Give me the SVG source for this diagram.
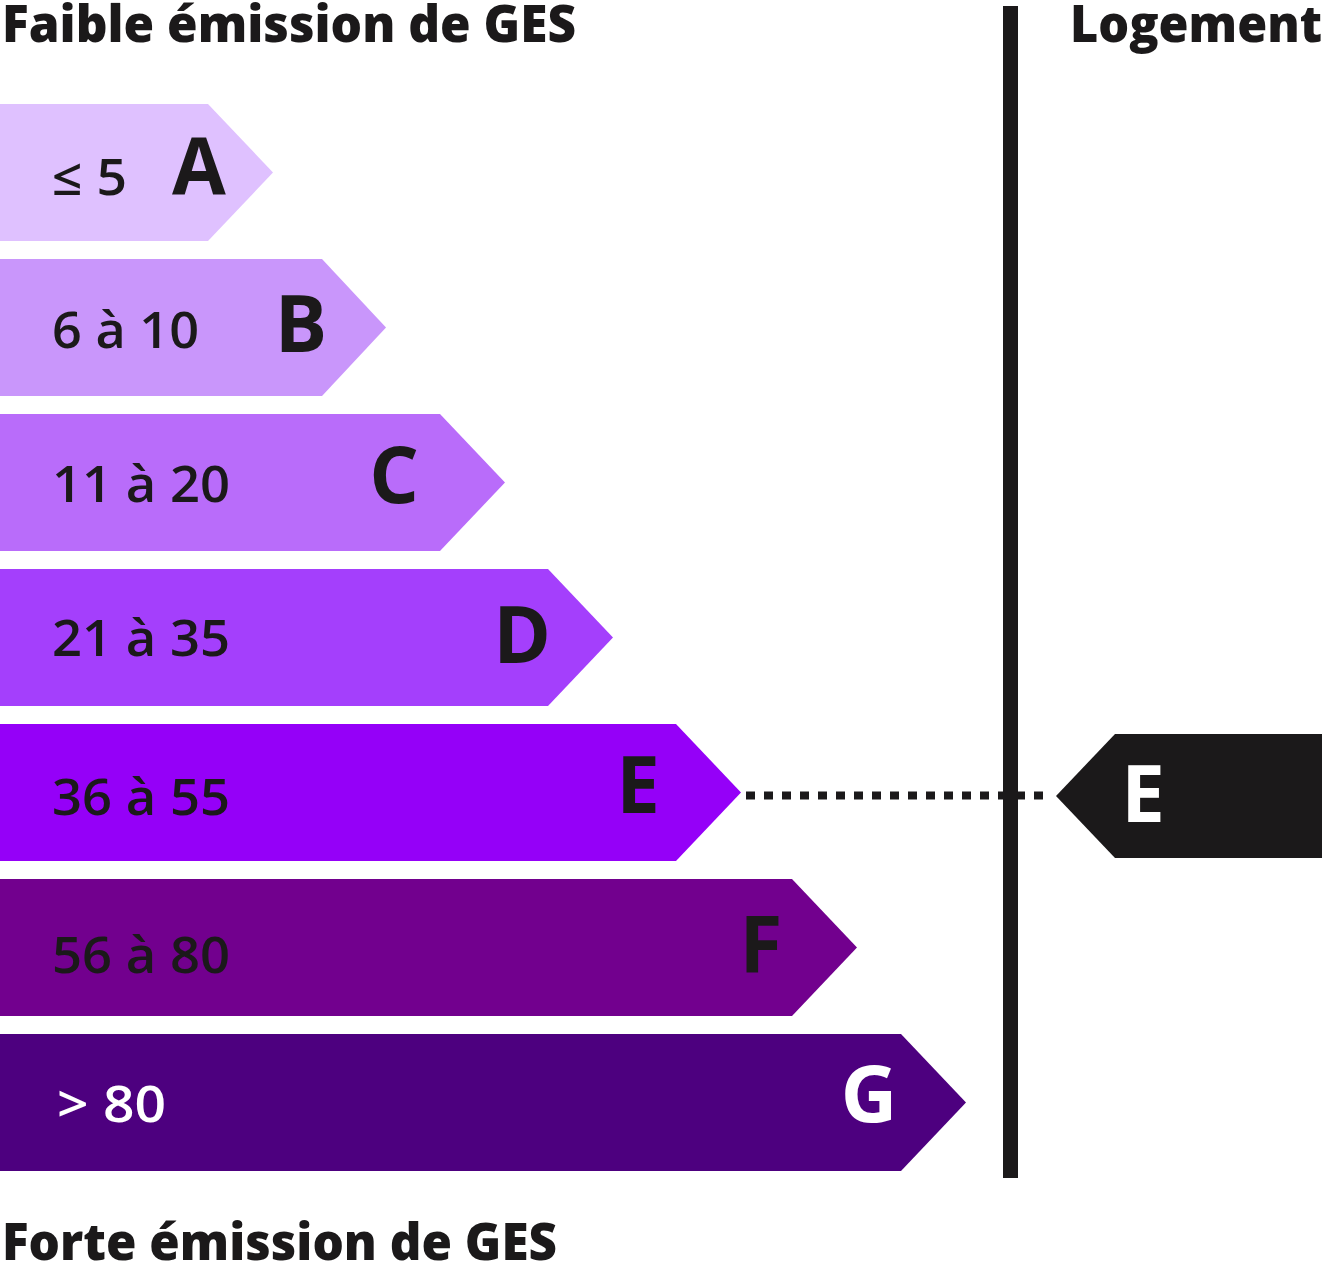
<svg xmlns="http://www.w3.org/2000/svg" width="1326" height="1266" viewBox="0 0 1326 1266">
<style>
.t{font-family:"Open Sans","Noto Sans",sans-serif;font-weight:800;fill:#1b191a}
.r{font-family:"Open Sans","Noto Sans",sans-serif;font-weight:600;font-size:50px;fill:#1b191a}
.l{font-family:"Open Sans","Noto Sans",sans-serif;font-weight:700;font-size:78px;fill:#1b191a;text-anchor:middle}
.w{fill:#ffffff}
</style>
<rect width="1326" height="1266" fill="#ffffff"/>
<text class="t" x="2" y="42" font-size="51" textLength="574" lengthAdjust="spacingAndGlyphs">Faible émission de GES</text>
<text class="t" x="1070" y="42" font-size="51" textLength="252" lengthAdjust="spacingAndGlyphs">Logement</text>
<text class="t" x="2" y="1260" font-size="51" textLength="555" lengthAdjust="spacingAndGlyphs">Forte émission de GES</text>
<g id="bar-A"><polygon points="0,104 208,104 273,172.5 208,241 0,241" fill="#dfc1ff"/><text class="r" x="52" y="195" textLength="75" lengthAdjust="spacingAndGlyphs">≤ 5</text><text class="l" x="199" y="194">A</text></g>
<g id="bar-B"><polygon points="0,259 322,259 386,327.5 322,396 0,396" fill="#c996fb"/><text class="r" x="52" y="348" textLength="147" lengthAdjust="spacingAndGlyphs">6 à 10</text><text class="l" x="301" y="352">B</text></g>
<g id="bar-C"><polygon points="0,414 440,414 505,482.5 440,551 0,551" fill="#b96cfa"/><text class="r" x="52" y="502" textLength="178" lengthAdjust="spacingAndGlyphs">11 à 20</text><text class="l" x="394" y="503">C</text></g>
<g id="bar-D"><polygon points="0,569 548,569 613,637.5 548,706 0,706" fill="#a43ffc"/><text class="r" x="52" y="656" textLength="178" lengthAdjust="spacingAndGlyphs">21 à 35</text><text class="l" x="522" y="663">D</text></g>
<g id="bar-E"><polygon points="0,724 676,724 741,792.5 676,861 0,861" fill="#9500f8"/><text class="r" x="52" y="815" textLength="178" lengthAdjust="spacingAndGlyphs">36 à 55</text><text class="l" x="638" y="813">E</text></g>
<g id="bar-F"><polygon points="0,879 792,879 857,947.5 792,1016 0,1016" fill="#72008e"/><text class="r" x="52" y="973" textLength="178" lengthAdjust="spacingAndGlyphs">56 à 80</text><text class="l" x="761" y="972">F</text></g>
<g id="bar-G"><polygon points="0,1034 901,1034 966,1102.5 901,1171 0,1171" fill="#4d007f"/><text class="r w" x="57" y="1122" textLength="109" lengthAdjust="spacingAndGlyphs">&gt; 80</text><text class="l w" x="869" y="1122">G</text></g>
<g id="connectors">
<line x1="1010.5" y1="6" x2="1010.5" y2="1178" stroke="#1b191a" stroke-width="15"/>
<line x1="746" y1="795.5" x2="1048" y2="795.5" stroke="#1b191a" stroke-width="8" stroke-dasharray="9 9"/>
</g>
<g id="tag-E"><polygon points="1056,796 1115,734 1322,734 1322,858 1115,858" fill="#1b191a"/><text class="l w" x="1143" y="822">E</text></g>
</svg>
